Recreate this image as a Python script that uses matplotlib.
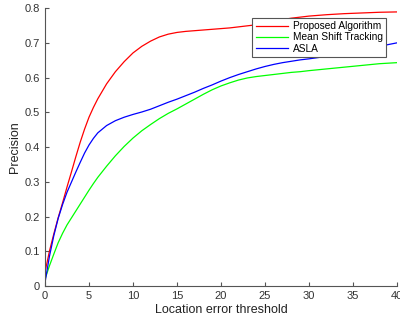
import matplotlib
matplotlib.use("Agg")
import matplotlib.pyplot as plt

plt.rcParams['font.family'] = ['Liberation Sans', 'DejaVu Sans']

thresholds = [0, 0.5, 1, 1.5, 2, 2.5, 3, 3.5, 4, 4.5, 5, 5.5, 6, 7, 8, 9, 10, 11, 12, 13, 14, 15, 16, 17, 18, 19, 20, 21, 22, 23, 24, 25, 26, 27, 28, 29, 30, 32, 34, 36, 38, 40]
proposed = [0.04, 0.10, 0.15, 0.197, 0.24, 0.285, 0.328, 0.372, 0.414, 0.452, 0.486, 0.514, 0.539, 0.582, 0.617, 0.646, 0.671, 0.69, 0.705, 0.717, 0.725, 0.73, 0.733, 0.735, 0.737, 0.739, 0.741, 0.743, 0.746, 0.749, 0.752, 0.757, 0.762, 0.767, 0.771, 0.774, 0.777, 0.781, 0.784, 0.786, 0.788, 0.789]
mean_shift = [0.02, 0.058, 0.092, 0.125, 0.152, 0.176, 0.196, 0.216, 0.236, 0.256, 0.276, 0.295, 0.313, 0.345, 0.375, 0.402, 0.426, 0.447, 0.465, 0.482, 0.497, 0.51, 0.524, 0.538, 0.552, 0.565, 0.576, 0.585, 0.593, 0.599, 0.603, 0.606, 0.609, 0.612, 0.615, 0.617, 0.62, 0.625, 0.63, 0.635, 0.64, 0.643]
asla = [0.01, 0.085, 0.145, 0.195, 0.235, 0.27, 0.299, 0.328, 0.356, 0.383, 0.406, 0.425, 0.441, 0.462, 0.476, 0.486, 0.494, 0.501, 0.509, 0.519, 0.529, 0.538, 0.548, 0.558, 0.569, 0.579, 0.59, 0.6, 0.609, 0.617, 0.625, 0.632, 0.638, 0.643, 0.647, 0.651, 0.654, 0.661, 0.67, 0.68, 0.69, 0.70]

series = [("Proposed Algorithm", proposed, "#ff0000"),
          ("Mean Shift Tracking", mean_shift, "#00ff00"),
          ("ASLA", asla, "#0000ff")]

fig = plt.figure(figsize=(4.0, 3.24), dpi=100)
ax = fig.add_axes([0.1125, 0.117, 0.88, 0.858])

for name, vals, col in series:
    ax.plot(thresholds, vals, color=col, lw=0.9, label=name)

ax.set_xlim(0, 40)
ax.set_ylim(0, 0.8)
ax.set_xticks([0, 5, 10, 15, 20, 25, 30, 35, 40])
ax.set_yticks([0, 0.1, 0.2, 0.3, 0.4, 0.5, 0.6, 0.7, 0.8])
ax.set_yticklabels(["0", "0.1", "0.2", "0.3", "0.4", "0.5", "0.6", "0.7", "0.8"])
for s in ["top", "right"]:
    ax.spines[s].set_visible(False)
for s in ["left", "bottom"]:
    ax.spines[s].set_color("#555555")
    ax.spines[s].set_linewidth(0.8)
ax.tick_params(direction="in", length=3, width=0.8, colors="#555555", labelsize=8, labelcolor="#333333")
ax.set_xlabel("Location error threshold", fontsize=9, color="#222222", labelpad=2)
ax.set_ylabel("Precision", fontsize=9, color="#222222", labelpad=3)

leg = ax.legend(loc="upper right", bbox_to_anchor=(0.969, 0.964), fontsize=7.3, frameon=True, fancybox=False,
                framealpha=1.0, handlelength=3.2, handletextpad=0.5, borderpad=0.3, labelspacing=0.12,
                borderaxespad=0)
leg.get_frame().set_edgecolor("#555555")
leg.get_frame().set_linewidth(0.8)

fig.savefig("out.png", dpi=100)
